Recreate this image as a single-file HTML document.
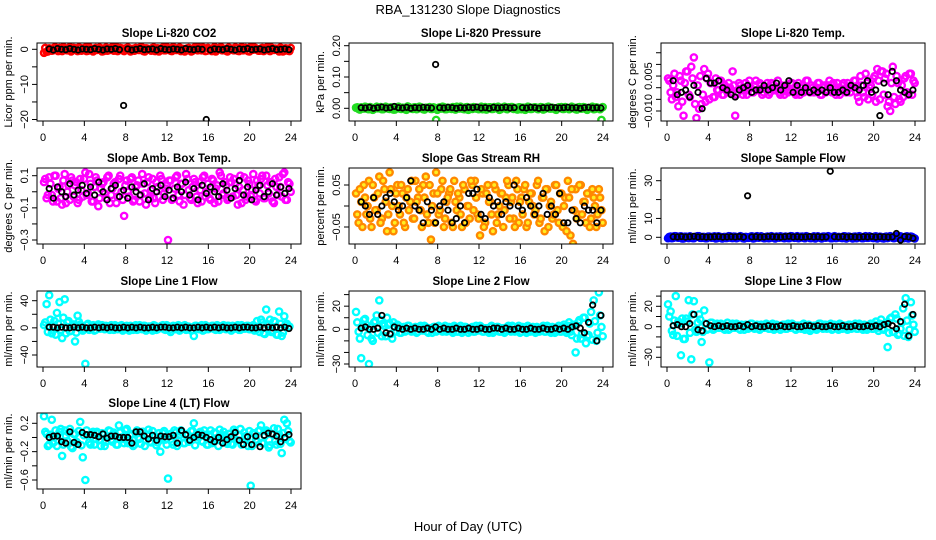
<!DOCTYPE html>
<html><head><meta charset="utf-8"><style>
html,body{margin:0;padding:0;background:#fff;}
svg{display:block;font-family:"Liberation Sans",Arial,sans-serif;}
</style></head><body>
<svg id="chart" width="936" height="540" viewBox="0 0 936 540">
<text x="468" y="14" text-anchor="middle" font-size="13">RBA_131230  Slope Diagnostics</text>
<text x="468" y="531" text-anchor="middle" font-size="13">Hour of Day (UTC)</text>
</svg>
<script>
// shared x data
const colorHours=[0.1,0.35,0.6,0.85,1.1,1.35,1.6,1.85,2.1,2.35,2.6,2.85,3.1,3.35,3.6,3.85,4.1,4.35,4.6,4.85,5.1,5.35,5.6,5.85,6.1,6.35,6.6,6.85,7.1,7.35,7.6,7.85,8.1,8.35,8.6,8.85,9.1,9.35,9.6,9.85,10.1,10.35,10.6,10.85,11.1,11.35,11.6,11.85,12.1,12.35,12.6,12.85,13.1,13.35,13.6,13.85,14.1,14.35,14.6,14.85,15.1,15.35,15.6,15.85,16.1,16.35,16.6,16.85,17.1,17.35,17.6,17.85,18.1,18.35,18.6,18.85,19.1,19.35,19.6,19.85,20.1,20.35,20.6,20.85,21.1,21.35,21.6,21.85,22.1,22.35,22.6,22.85,23.1,23.35,23.6,23.85];
const colorHours2=[0.22,0.47,0.72,0.97,1.22,1.47,1.72,1.97,2.22,2.47,2.72,2.97,3.22,3.47,3.72,3.97,4.22,4.47,4.72,4.97,5.22,5.47,5.72,5.97,6.22,6.47,6.72,6.97,7.22,7.47,7.72,7.97,8.22,8.47,8.72,8.97,9.22,9.47,9.72,9.97,10.22,10.47,10.72,10.97,11.22,11.47,11.72,11.97,12.22,12.47,12.72,12.97,13.22,13.47,13.72,13.97,14.22,14.47,14.72,14.97,15.22,15.47,15.72,15.97,16.22,16.47,16.72,16.97,17.22,17.47,17.72,17.97,18.22,18.47,18.72,18.97,19.22,19.47,19.72,19.97,20.22,20.47,20.72,20.97,21.22,21.47,21.72,21.97,22.22,22.47,22.72,22.97,23.22,23.47,23.72,23.97];
const blackHours=[0.6,1.0,1.4,1.8,2.2,2.6,3.0,3.4,3.8,4.2,4.6,5.0,5.4,5.8,6.2,6.6,7.0,7.4,7.8,8.2,8.6,9.0,9.4,9.8,10.2,10.6,11.0,11.4,11.8,12.2,12.6,13.0,13.4,13.8,14.2,14.6,15.0,15.4,15.8,16.2,16.6,17.0,17.4,17.8,18.2,18.6,19.0,19.4,19.8,20.2,20.6,21.0,21.4,21.8,22.2,22.6,23.0,23.4,23.8];
const xTicks=[0,4,8,12,16,20,24];

// panel 1 CO2
const co2Color=[-1.0,-0.7,0.3,-0.4,0.5,-0.2,0.4,-0.5,0.2,-0.3,0.6,-0.1,0.3,-0.5,0.4,-0.2,0.5,-0.4,0.2,-0.6,0.4,-0.1,0.3,-0.5,0.5,-0.3,0.2,-0.4,0.6,-0.2,0.3,-0.5,0.4,-0.3,0.1,-0.4,0.3,-0.2,0.5,-0.6,0.2,-0.1,0.4,-0.5,0.3,-0.2,0.5,-0.3,0.2,-0.4,0.6,-0.2,0.3,-0.5,0.1,-0.3,0.4,-0.6,0.2,-0.1,0.5,-0.3,0.3,-0.4,0.2,-0.5,0.6,-0.2,0.4,-0.3,0.1,-0.6,0.3,-0.2,0.5,-0.4,0.2,-0.3,0.4,-0.5,0.6,-0.1,0.3,-0.4,0.2,-0.5,0.4,-0.3,0.5,-0.2,0.1,-0.6,0.3,-0.4,0.2,-0.5];
const co2Color2=[0.4,-0.6,0.1,-0.3,0.5,-0.5,0.2,0.6,-0.2,0.3,-0.6,0.4,-0.1,0.5,-0.4,0.3,-0.5,0.6,-0.3,0.1,-0.2,0.5,-0.6,0.2,-0.4,0.3,0.6,-0.1,-0.5,0.4,-0.3,0.2,0.5,-0.6,0.1,0.4,-0.2,0.6,-0.5,0.3,-0.1,-0.4,0.5,0.2,-0.6,0.3,-0.3,0.6,0.1,-0.5,0.4,-0.2,0.5,-0.1,-0.6,0.3,0.2,-0.4,0.6,-0.3,0.1,0.5,-0.5,0.4,-0.2,0.3,-0.6,0.2,0.6,-0.1,-0.4,0.5,0.1,-0.3,0.4,-0.5,0.6,-0.2,0.2,-0.6,0.3,0.5,-0.1,-0.4,0.4,-0.3,0.6,-0.5,0.1,0.2,-0.2,0.5,-0.6,0.3,-0.4,0.4];
const co2Black=[0.1,-0.2,0.2,0,-0.1,0.2,0,-0.2,0.1,0,-0.1,0.2,0,-0.2,0.1,0,0.2,-0.1,-16,0.1,-0.2,0,0.2,-0.1,0,0.1,-0.2,0.2,0,-0.1,0.1,0,-0.2,0.2,0,-0.1,0.1,0,-20,-0.2,0.1,0,-0.1,0.2,0,-0.2,0.1,0,0.2,-0.1,0,0.1,-0.2,0,0.2,-0.1,0,0.1,-0.1];
// panel 2 pressure
const presColor=[0.002,-0.002,0.003,-0.001,0.004,-0.003,0.001,-0.002,0.005,0,-0.003,0.002,0.003,-0.002,0.001,-0.004,0.004,-0.001,0.002,-0.003,0.006,0.001,-0.002,0.003,-0.001,0.004,-0.003,0.002,0.001,-0.002,0.003,-0.037,0.002,-0.001,0.004,-0.003,0.001,-0.002,0.003,0.005,-0.001,0.002,-0.003,0.004,0.001,-0.002,0.003,0,0.002,-0.003,0.004,-0.001,0.003,-0.002,0.001,0.005,-0.003,0.002,-0.001,0.003,0.004,-0.002,0.001,0.003,-0.003,0.002,0,0.004,-0.002,0.003,-0.001,0.002,0.003,-0.002,0.004,-0.001,0.002,-0.003,0.001,0.003,-0.002,0.004,0,-0.001,0.002,-0.003,0.003,-0.001,0.004,-0.002,0.001,0.002,-0.003,0.003,-0.001,-0.037];
const presColor2=[0.003,-0.004,0.001,0.005,-0.002,0.004,-0.005,0.002,0.0,0.004,-0.003,0.005,-0.001,0.003,-0.004,0.002,0.005,-0.002,0.001,-0.005,0.004,-0.001,0.003,-0.003,0.005,0.0,-0.004,0.002,0.004,-0.002,0.001,-0.005,0.003,0.005,-0.003,0.002,-0.001,0.004,-0.004,0.001,0.005,-0.002,0.003,-0.005,0.002,0.004,-0.001,-0.003,0.005,0.001,-0.004,0.003,-0.002,0.004,0.0,-0.005,0.002,0.005,-0.003,0.001,0.004,-0.001,-0.004,0.003,0.002,-0.005,0.005,-0.002,0.001,0.003,-0.003,0.004,-0.004,0.002,0.005,-0.001,0.0,-0.005,0.003,0.004,-0.002,0.001,-0.003,0.005,0.002,-0.004,0.004,-0.001,0.003,-0.005,0.001,0.005,-0.002,0.002,-0.003,0.004];
const presBlack=[0.002,0.001,0.003,0,0.002,0.004,0.001,0.002,0.006,0.002,0.001,0.003,0,0.002,0.001,0.003,0.002,0.001,0.14,0.002,0.001,0.003,0.002,0,0.002,0.001,0.003,0.002,0.004,0.001,0.002,0,0.003,0.001,0.002,0.003,0.001,0.002,0.22,0.002,0.001,0.003,0.002,0,0.002,0.001,0.003,0.002,0.001,0.002,0.003,0.001,0.002,0,0.002,0.003,0.001,0.002,0.001];
// panel 3 Li-820 temp (values in 0.001 degC)
const tempColor=[4,-2,1,-4,-8,3,-12,7,-3,9,13,-13,-9,-7,8,4,-5,2,-4,-1,3,-3,1,-2,0,7,-12,-2,1,-3,2,-1,0,-2,3,-1,1,-2,0,-3,2,-1,0,-2,1,-3,0,-1,2,-2,0,-3,1,-1,3,-2,0,-1,2,-3,0,-2,1,-1,2,-3,0,-1,2,-2,0,1,3,-2,-6,1,-4,2,0,-3,5,8,-5,7,4,-8,-10,9,-7,2,-6,-4,5,-3,6,3];
const tempColor2=[3,-5,6,-2,5,-6,2,7,-4,4,-7,1,5,-3,-6,6,2,-4,4,-1,3,-3,0,2,-2,1,-3,2,-1,0,-3,3,-2,1,-1,2,-3,0,2,-2,1,-1,3,-3,0,1,-2,2,-1,-3,2,0,-2,3,-1,1,-2,0,2,-3,1,-1,3,-2,0,2,-3,1,-1,2,-2,0,3,-4,5,-2,6,-5,1,4,-6,3,7,-3,6,-6,2,-4,5,-5,1,4,-2,6,-3,2];
const tempBlack=[3,-3,-2,-1,-4,1,-2,-9,4,2,2,3,0,-1,-3,-4,-1,0,1,-2,-1,-1,1,-1,0,2,-1,1,3,-2,1,-2,0,-2,-1,-2,-1,-2,0,-2,-2,-1,-2,1,0,-1,1,3,-2,-1,-12,2,-3,7,3,-1,-2,-3,-1];
// panel 4 amb box temp
const boxColor=[0.06,-0.04,0.09,-0.02,0.1,-0.06,0.03,-0.08,0.11,0.0,-0.05,0.07,0.04,-0.07,0.08,-0.03,0.12,-0.01,0.05,-0.06,0.09,-0.09,0.02,0.06,-0.04,0.1,-0.02,0.05,-0.07,0.08,0.0,-0.15,0.07,-0.03,0.09,-0.05,0.04,-0.06,0.11,-0.01,0.06,-0.04,0.08,-0.07,0.03,0.1,-0.05,0.02,-0.3,0.07,-0.04,0.09,-0.02,0.05,-0.08,0.11,0.01,-0.05,0.08,-0.03,0.06,-0.06,0.1,0.0,-0.04,0.08,-0.07,0.04,0.12,-0.02,0.06,-0.05,0.09,-0.03,0.05,-0.08,0.1,0.01,-0.05,0.07,-0.02,0.11,-0.06,0.04,0.08,-0.04,0.1,-0.01,0.06,-0.07,0.03,0.09,-0.03,0.12,-0.05,0.05];
const boxColor2=[0.08,-0.02,0.05,-0.06,0.1,0.02,-0.04,0.07,-0.07,0.04,0.09,-0.03,0.06,-0.05,0.01,0.08,-0.02,0.11,-0.06,0.03,0.07,-0.04,0.05,-0.01,0.09,-0.07,0.02,0.06,-0.03,0.1,-0.05,0.04,0.0,0.08,-0.06,0.03,0.07,-0.02,0.05,-0.08,0.09,0.01,-0.04,0.06,-0.03,0.08,-0.01,0.04,0.07,-0.05,0.02,0.1,-0.06,0.05,-0.02,0.08,-0.04,0.03,0.06,-0.07,0.01,0.09,-0.03,0.05,-0.05,0.07,0.02,-0.06,0.1,-0.01,0.04,-0.04,0.06,0.08,-0.02,0.03,-0.07,0.09,-0.03,0.05,0.01,-0.05,0.07,-0.01,0.1,-0.04,0.04,0.06,-0.06,0.08,-0.02,0.03,0.11,-0.05,0.06,0.0];
const boxBlack=[0.02,-0.04,0.03,0.0,-0.03,0.05,-0.02,0.01,0.04,-0.01,0.03,-0.02,0.06,0.0,-0.05,0.02,0.04,-0.03,0.01,-0.04,0.03,0.0,-0.02,0.05,-0.05,0.02,0.0,0.04,-0.03,0.01,-0.04,0.03,0.0,0.06,-0.02,0.02,-0.05,0.04,-0.01,0.03,0.0,-0.03,0.05,0.01,-0.04,0.02,0.07,-0.02,0.03,-0.05,0.01,0.04,-0.03,0.0,0.05,-0.02,0.03,-0.01,0.02];
// panel 5 gas stream RH
const rhColor=[0.03,-0.04,0.01,0.05,-0.02,0.06,-0.05,0.02,-0.01,0.07,-0.03,0.04,-0.06,0.08,0.0,-0.04,0.05,-0.02,0.03,-0.05,0.04,0.01,-0.03,0.06,0.02,-0.01,0.05,0.07,-0.04,-0.08,0.03,0.08,-0.02,0.04,-0.05,0.01,0.03,-0.04,0.06,-0.01,0.02,-0.05,0.04,0.0,-0.03,0.05,0.06,-0.02,-0.07,0.03,-0.04,0.05,0.01,-0.06,0.04,-0.02,0.03,-0.05,0.02,0.05,0.01,-0.03,0.06,-0.04,0.02,0.04,-0.05,0.01,0.03,-0.02,0.05,-0.04,0.02,-0.06,0.04,0.0,-0.03,0.05,-0.01,0.03,-0.05,0.02,0.06,-0.07,-0.09,0.04,-0.02,0.05,0.01,-0.04,0.03,-0.03,0.02,-0.05,0.04,-0.01];
const rhColor2=[-0.02,0.04,-0.05,0.02,0.0,-0.03,0.05,-0.01,0.03,-0.04,0.06,0.01,-0.02,0.04,-0.06,0.03,0.0,0.05,-0.04,0.02,-0.01,0.06,-0.03,0.01,0.04,-0.05,0.02,-0.02,0.05,0.0,-0.04,0.03,-0.01,0.06,-0.03,0.02,0.04,-0.05,0.01,0.03,-0.02,0.05,-0.04,0.0,0.06,-0.01,0.02,-0.03,0.04,-0.05,0.03,0.01,-0.02,0.05,-0.04,0.0,0.03,-0.01,0.06,-0.03,0.02,-0.05,0.04,0.01,-0.02,0.05,-0.04,0.03,0.0,-0.01,0.06,-0.03,0.02,0.04,-0.05,0.01,-0.02,0.05,-0.04,0.03,0.0,-0.06,0.02,0.04,-0.01,-0.03,0.05,-0.02,0.01,0.03,-0.05,0.04,0.0,-0.02,0.02,-0.04];
const rhBlack=[0.01,0.0,-0.02,0.02,-0.02,0.0,0.02,0.03,0.01,-0.01,0.0,0.02,0.06,0.0,-0.01,-0.04,0.01,-0.01,-0.04,0.0,0.01,-0.01,-0.04,-0.03,0.0,-0.04,0.03,0.03,0.04,-0.02,-0.03,0.02,0.0,0.01,-0.02,0.01,0.0,0.05,0.0,-0.01,0.02,0.0,-0.02,0.0,0.03,-0.02,0.0,-0.02,0.03,-0.04,-0.04,-0.01,-0.03,-0.04,0.0,-0.01,-0.01,-0.04,-0.01];
// panel 6 sample flow
const sampleColor=[-0.5,0.4,-0.3,0.6,-0.2,0.5,-0.6,0.3,-0.4,0.2,-0.5,0.4,0.6,-0.3,0.2,-0.5,0.4,-0.2,0.5,-0.4,0.3,-0.6,0.2,-0.3,0.5,-0.4,0.3,-0.2,0.6,-0.5,0.2,-0.3,0.4,-0.6,0.3,-0.2,0.5,-0.4,0.2,-0.5,0.6,-0.3,0.4,-0.2,0.3,-0.5,0.2,-0.4,0.5,-0.3,0.6,-0.2,0.4,-0.5,0.3,-0.4,0.2,-0.6,0.5,-0.3,0.4,-0.2,0.6,-0.5,0.3,-0.4,0.2,-0.3,0.5,-0.6,0.4,-0.2,0.3,-0.5,0.6,-0.4,0.2,-0.3,0.5,-0.2,0.4,-0.6,0.3,-0.5,0.2,-0.4,0.6,-0.3,0.4,-0.2,0.5,-0.5,0.3,-0.6,0.4,-0.3];
const sampleColor2=[0.2,-0.5,0.6,-0.1,0.4,-0.6,0.3,-0.2,0.5,-0.4,0.1,0.6,-0.3,0.2,-0.5,0.4,-0.1,0.3,-0.6,0.5,-0.2,0.1,-0.4,0.6,-0.3,0.4,-0.5,0.2,0.3,-0.6,0.1,-0.2,0.5,-0.4,0.6,-0.1,0.2,-0.5,0.4,-0.3,0.3,-0.6,0.1,0.5,-0.2,0.4,-0.4,0.6,-0.1,0.2,-0.5,0.3,-0.3,0.6,0.1,-0.4,0.5,-0.2,0.2,-0.6,0.4,-0.1,0.3,-0.5,0.6,-0.3,0.1,-0.4,0.5,-0.2,0.2,-0.6,0.4,-0.1,0.3,-0.5,0.6,-0.3,0.1,-0.4,0.5,-0.2,0.2,-0.6,0.4,-0.1,0.3,-0.5,0.6,-0.3,0.1,-0.4,0.5,-0.2,0.2,-0.6];
const sampleBlack=[0.3,0.2,0.4,0.1,0.3,0.5,0.2,0.3,0.1,0.2,0.3,0.4,0.1,0.2,0.3,0.2,0.4,0.1,22,0.2,0.3,0.1,0.2,0.4,0.3,0.2,0.1,0.3,0.5,0.2,0.3,0.1,0.2,0.4,0.2,0.3,0.1,0.2,35,0.3,0.2,0.4,0.1,0.3,0.2,0.1,0.3,0.2,0.4,0.1,0.3,0.2,0.1,0.2,2,-1.5,0.4,0.2,-0.5];
// panel 7 line 1 flow
const line1Color=[4,35,48,-8,10,22,38,-15,42,8,-5,3,-20,18,5,-4,-53,6,-2,4,-3,5,-1,3,3,-2,4,-3,2,-1,4,-2,3,-4,2,1,-3,4,-2,3,-1,2,-4,3,-2,1,4,-3,2,-6,3,-2,4,-1,3,-3,2,-4,-12,3,-2,4,-3,2,-1,3,-2,4,-3,2,-1,3,-2,3,-1,4,-3,2,-1,3,-2,4,-3,2,12,-8,27,5,-6,10,-10,24,-12,17,6,2];
const line1Color2=[8,-6,12,3,-10,6,-3,15,-8,10,-4,5,-7,9,3,-2,4,-3,2,-4,3,-1,4,-2,2,-3,1,4,-2,3,-4,2,-1,3,-3,4,-2,1,3,-4,2,-1,4,-3,1,3,-2,4,-3,2,-1,3,-4,2,4,-2,1,-3,3,-1,2,-4,4,-2,1,3,-3,2,-1,4,-2,3,-4,1,2,-3,4,-1,3,-2,2,-4,10,-6,8,-9,5,12,-4,9,-10,6,-7,4];
const line1Black=[1,1,0,1,0,0,1,0,1,0,0,1,0,1,0,1,0,0,1,0,1,0,1,0,0,1,0,1,1,0,0,1,0,1,0,0,1,0,1,0,1,0,1,0,0,1,0,1,1,0,0,1,0,1,0,1,0,1,-1];
// panel 8 line 2 flow
const line2Color=[15,-2,-25,8,4,-30,-8,6,12,25,-6,3,10,5,-8,2,4,-3,1,-2,3,0,-1,2,-2,3,-1,2,-3,1,2,-2,3,-1,1,-2,2,-1,3,-2,1,-3,2,0,-1,2,-2,1,3,-2,1,-1,2,-3,1,2,-2,1,-1,3,-2,2,-1,3,-2,1,-3,2,0,-1,2,-2,1,-2,3,-1,2,-3,1,-2,2,-1,3,-2,4,-20,6,-8,10,-12,-5,15,25,-10,32,2];
const line2Color2=[6,-8,3,9,-5,2,-10,7,-3,8,5,-6,4,-4,6,-2,3,-3,2,-1,3,-2,1,-3,2,-1,3,-2,1,-3,2,-1,2,-2,3,-1,1,-3,2,-2,3,-1,2,-3,1,-2,3,-1,2,-2,1,-3,3,-1,2,-2,1,-3,2,-1,3,-2,1,-3,2,-1,3,-2,2,-3,1,-1,3,-2,2,-3,1,-1,3,-2,4,-3,6,-5,3,-8,8,-4,10,-6,5,-9,7,-3,12,-6];
const line2Black=[1,2,0,0,1,12,-3,-4,2,1,0,1,0,1,0,0,1,0,2,0,1,0,0,1,0,0,1,0,0,1,0,0,1,1,0,1,0,0,1,0,0,1,0,0,1,0,0,1,0,1,0,2,3,1,-3,6,21,-10,12];
// panel 9 line 3 flow
const line3Color=[22,15,-8,30,5,-28,-12,8,26,-32,25,-5,12,-15,16,-3,-35,4,-2,3,-1,2,-3,4,-2,3,-1,2,-3,1,2,-2,3,-1,1,-2,2,-1,3,-2,1,-3,2,0,-1,2,-2,1,3,-2,1,-1,2,-3,1,-4,-2,1,-1,3,-2,2,-1,3,-2,1,-3,2,0,-1,2,-2,1,-2,3,-1,2,-3,1,-2,2,-1,3,-2,3,-20,8,-5,12,-8,-2,18,28,-10,24,2];
const line3Color2=[10,-4,6,-9,3,8,-12,5,-6,12,-3,4,7,-5,3,-2,4,-3,2,-1,3,-2,1,-3,2,-1,3,-2,2,-3,1,-1,3,-2,2,-3,1,-1,2,-2,3,-1,1,-3,2,-2,3,-1,2,-3,1,-2,3,-1,2,-2,1,-3,3,-1,2,-2,1,-3,2,-1,3,-2,1,-3,2,-1,3,-2,2,-3,1,-1,3,-2,5,-4,7,-3,4,-6,9,-5,8,-7,4,-9,6,-3,11,-5];
const line3Black=[1,2,0,0,3,12,-3,-4,3,1,0,1,0,1,0,0,1,0,2,0,1,0,0,1,0,0,1,0,0,1,0,0,1,1,0,1,0,0,1,0,0,1,0,0,1,0,0,1,0,1,0,2,3,1,-2,5,22,-9,12];
// panel 10 line 4 (LT) flow
const line4Color=[0.3,0.05,-0.1,0.25,0.0,-0.12,0.08,-0.26,0.1,-0.05,0.12,-0.15,0.05,-0.08,0.22,-0.28,-0.6,0.03,-0.1,0.08,-0.02,0.06,-0.12,0.04,-0.06,0.1,-0.03,0.07,-0.1,0.17,0.0,-0.08,0.12,-0.04,0.05,-0.1,0.1,-0.02,0.08,-0.12,0.04,-0.06,0.09,0.02,-0.07,-0.2,0.06,-0.03,-0.58,0.05,-0.1,0.07,-0.04,0.1,-0.08,0.03,-0.06,0.09,0.2,0.02,0.06,-0.05,0.1,-0.1,0.04,-0.08,0.07,-0.02,0.11,-0.06,0.03,-0.09,0.05,-0.1,0.08,-0.04,0.12,-0.08,0.02,-0.12,-0.68,0.06,-0.03,0.09,0.17,-0.08,0.1,-0.14,0.05,0.13,-0.1,0.04,-0.22,0.25,0.2,-0.05];
const line4Color2=[0.08,-0.12,0.04,-0.08,0.1,-0.04,0.12,-0.1,0.02,0.07,-0.13,0.05,-0.06,0.09,-0.11,0.03,0.1,-0.07,0.05,-0.1,0.08,-0.03,0.06,-0.12,0.01,0.09,-0.06,0.04,-0.1,0.07,-0.02,0.1,-0.08,0.03,-0.12,0.06,0.0,-0.09,0.08,-0.04,0.11,-0.07,0.02,-0.11,0.06,-0.03,0.09,-0.1,0.04,-0.06,0.1,-0.12,0.03,0.07,-0.08,0.05,-0.02,0.09,-0.11,0.01,0.08,-0.06,0.04,-0.1,0.1,-0.03,0.06,-0.12,0.02,0.08,-0.07,0.05,-0.09,0.11,-0.04,0.03,-0.1,0.07,-0.01,0.09,-0.12,0.05,-0.06,0.1,-0.08,0.02,0.08,-0.11,0.04,-0.05,0.12,-0.09,0.06,-0.02,0.09,-0.07];
const line4Black=[0.0,0.02,0.02,-0.06,-0.08,0.08,-0.07,-0.1,0.07,0.04,0.04,0.03,0.01,0.05,-0.01,0.02,0.02,0.0,0.0,0.0,-0.08,0.08,0.08,0.02,-0.02,0.03,-0.04,0.02,0.01,0.01,0.03,-0.08,0.1,0.04,-0.04,0.0,0.04,0.03,0.0,-0.03,-0.06,0.0,-0.08,-0.03,0.01,0.07,-0.04,-0.1,0.01,-0.1,0.02,-0.13,0.03,0.06,0.05,0.02,-0.06,0.0,0.04];

// y tick values & labels
const co2Ticks=[0,-5,-10,-15,-20], co2Labels=["0","","\u221210","","\u221220"];
const presTicks=[0,0.05,0.1,0.15,0.2], presLabels=["0.00","","0.10","","0.20"];
const tempTicks=[15,10,5,0,-5,-10], tempLabels=["","","0.005","","","\u22120.010"];
const boxTicks=[0.1,0,-0.1,-0.2,-0.3], boxLabels=["0.1","","\u22120.1","","\u22120.3"];
const rhTicks=[0.05,0,-0.05], rhLabels=["0.05","","\u22120.05"];
const sampleTicks=[0,10,20,30], sampleLabels=["0","10","","30"];
const line1Ticks=[40,20,0,-20,-40], line1Labels=["40","","0","","\u221240"];
const line2Ticks=[30,20,10,0,-10,-20,-30], line2Labels=["","20","","0","","","\u221230"];
const line3Ticks=[30,20,10,0,-10,-20,-30], line3Labels=["","20","","0","","","\u221230"];
const line4Ticks=[0.2,0,-0.2,-0.4,-0.6], line4Labels=["0.2","","\u22120.2","","\u22120.6"];

const NS='http://www.w3.org/2000/svg';
const svg=document.getElementById('chart');
function mk(tag,attrs,parent){const e=document.createElementNS(NS,tag);for(const k in attrs)e.setAttribute(k,attrs[k]);(parent||svg).appendChild(e);return e;}

const rowsTop=[43,168,291,413], rowsBot=[121,244,367,489];
const panels=[
 {key:'co2',title:'Slope Li-820 CO2',ylab:'Licor ppm per min.',r:0,c:0,col:'#ff0000',ref:[0,49.3,-20,119.5],cv:co2Color,cv2:co2Color2,bv:co2Black,tv:co2Ticks,tl:co2Labels},
 {key:'pressure',title:'Slope Li-820 Pressure',ylab:'kPa per min.',r:0,c:1,col:'#22dd22',ref:[0,108.3,0.2,45.7],cv:presColor,cv2:presColor2,bv:presBlack,tv:presTicks,tl:presLabels},
 {key:'li820-temp',title:'Slope Li-820 Temp.',ylab:'degrees C per min.',r:0,c:2,col:'#ff00ff',ref:[0,87.7,-10,111],cv:tempColor,cv2:tempColor2,bv:tempBlack,tv:tempTicks,tl:tempLabels},
 {key:'amb-box-temp',title:'Slope Amb. Box Temp.',ylab:'degrees C per min.',r:1,c:0,col:'#ff00ff',ref:[0.1,175.7,-0.3,240],cv:boxColor,cv2:boxColor2,bv:boxBlack,tv:boxTicks,tl:boxLabels},
 {key:'gas-stream-rh',title:'Slope Gas Stream RH',ylab:'percent per min.',r:1,c:1,col:'#ff8800',fill:'#ffee22',ref:[0.05,185,-0.05,227],cv:rhColor,cv2:rhColor2,bv:rhBlack,tv:rhTicks,tl:rhLabels},
 {key:'sample-flow',title:'Slope Sample Flow',ylab:'ml/min per min.',r:1,c:2,col:'#0000ff',ref:[0,237.3,30,180.7],cv:sampleColor,cv2:sampleColor2,bv:sampleBlack,tv:sampleTicks,tl:sampleLabels},
 {key:'line1-flow',title:'Slope Line 1 Flow',ylab:'ml/min per min.',r:2,c:0,col:'#00ffff',ref:[40,300.7,-40,355],cv:line1Color,cv2:line1Color2,bv:line1Black,tv:line1Ticks,tl:line1Labels},
 {key:'line2-flow',title:'Slope Line 2 Flow',ylab:'ml/min per min.',r:2,c:1,col:'#00ffff',ref:[0,329.3,-30,364],cv:line2Color,cv2:line2Color2,bv:line2Black,tv:line2Ticks,tl:line2Labels},
 {key:'line3-flow',title:'Slope Line 3 Flow',ylab:'ml/min per min.',r:2,c:2,col:'#00ffff',ref:[0,326.7,-30,357.3],cv:line3Color,cv2:line3Color2,bv:line3Black,tv:line3Ticks,tl:line3Labels},
 {key:'line4-flow',title:'Slope Line 4 (LT) Flow',ylab:'ml/min per min.',r:3,c:0,col:'#00ffff',ref:[0.2,423.3,-0.6,480],cv:line4Color,cv2:line4Color2,bv:line4Black,tv:line4Ticks,tl:line4Labels}
];

panels.forEach(p=>{
  const x0=43+p.c*312, left=x0-6, right=x0+258, top=rowsTop[p.r], bot=rowsBot[p.r];
  const xS=h=>x0+h*(248/24);
  const yS=v=>p.ref[1]+(v-p.ref[0])*(p.ref[3]-p.ref[1])/(p.ref[2]-p.ref[0]);
  const g=mk('g',{});
  
  
  const clip=mk('clipPath',{id:'clip-'+p.key},g);
  mk('rect',{x:left,y:top,width:right-left,height:bot-top},clip);
  const t=mk('text',{x:(left+right)/2,y:top-6,'text-anchor':'middle','font-size':'11.5','font-weight':'bold'},g);
  t.textContent=p.title;
  
  
  const yl=mk('text',{transform:`translate(${left-25},${(top+bot)/2}) rotate(-90)`,'text-anchor':'middle','font-size':'11'},g);
  yl.textContent=p.ylab;
  
  
  const pts=mk('g',{'clip-path':`url(#clip-${p.key})`},g);
  
  
  p.cv.forEach((v,i)=>{
    const c=mk('circle',{cx:xS(colorHours[i]),cy:yS(v),r:3.1,fill:p.fill||'none',stroke:p.col,'stroke-width':2.4},pts);
    
    
  });
  p.cv2.forEach((v,i)=>{
    const c=mk('circle',{cx:xS(colorHours2[i]),cy:yS(v),r:3.1,fill:p.fill||'none',stroke:p.col,'stroke-width':2.4},pts);
    
    
  });
  const bp=mk('g',{'clip-path':`url(#clip-${p.key})`},g);
  
  
  p.bv.forEach((v,i)=>{
    const c=mk('circle',{cx:xS(blackHours[i]),cy:yS(v),r:2.7,fill:'none',stroke:'#000','stroke-width':1.8},bp);
    
    
  });
  const box=mk('rect',{x:left,y:top,width:right-left,height:bot-top,fill:'none',stroke:'#000','stroke-width':1},g);
  
  
  xTicks.forEach(h=>{
    mk('line',{x1:xS(h),x2:xS(h),y1:bot,y2:bot+5,stroke:'#000'},g);
    const tx=mk('text',{x:xS(h),y:bot+20,'text-anchor':'middle','font-size':'11'},g);
    tx.textContent=h;
    
    
  });
  p.tv.forEach((v,i)=>{
    const y=yS(v);
    mk('line',{x1:left-5,x2:left,y1:y,y2:y,stroke:'#000'},g);
    if(p.tl[i]){
      const ty=mk('text',{transform:`translate(${left-9},${y}) rotate(-90)`,'text-anchor':'middle','font-size':'11'},g);
      ty.textContent=p.tl[i];
      
      
    }
  });
});
</script>
</body></html>
